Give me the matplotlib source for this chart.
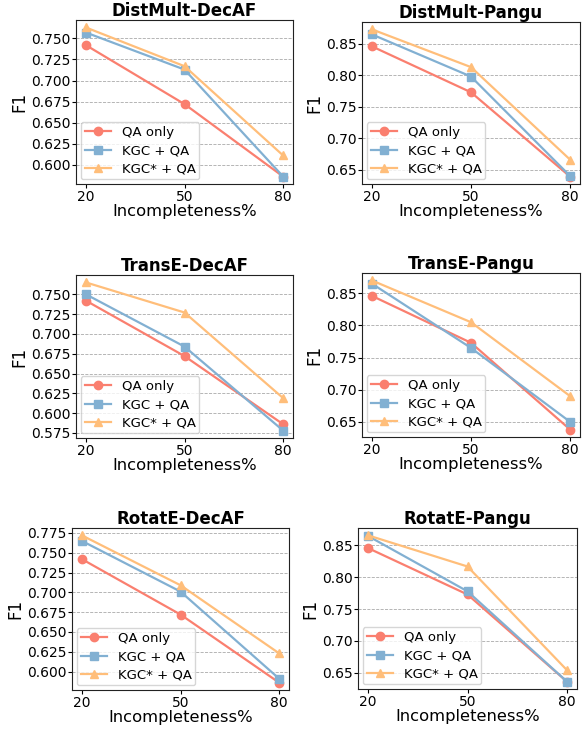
import matplotlib
matplotlib.use("Agg")
import matplotlib.pyplot as plt
from matplotlib.ticker import MultipleLocator, FormatStrFormatter

x_vals = [20, 50, 80]
titles = ["DistMult-DecAF", "DistMult-Pangu", "TransE-DecAF", "TransE-Pangu", "RotatE-DecAF", "RotatE-Pangu"]
series_names = ["QA only", "KGC + QA", "KGC* + QA"]

qa_only = [
    [0.742, 0.672, 0.586],
    [0.846, 0.773, 0.639],
    [0.742, 0.672, 0.586],
    [0.846, 0.773, 0.638],
    [0.742, 0.672, 0.586],
    [0.846, 0.773, 0.636],
]
kgc_qa = [
    [0.757, 0.713, 0.586],
    [0.865, 0.798, 0.640],
    [0.750, 0.684, 0.578],
    [0.865, 0.765, 0.650],
    [0.765, 0.701, 0.591],
    [0.865, 0.778, 0.636],
]
kgcstar_qa = [
    [0.763, 0.717, 0.611],
    [0.873, 0.813, 0.666],
    [0.765, 0.727, 0.619],
    [0.870, 0.805, 0.690],
    [0.772, 0.709, 0.623],
    [0.866, 0.817, 0.654],
]

colors = ["#FA7F6F", "#82B0D2", "#FFBE7A"]
markers = ["o", "s", "^"]

W, H = 585, 729
fig = plt.figure(figsize=(W / 100, H / 100), dpi=100)

# axes boxes in pixels: left, top, right, bottom
boxes = [
    (76, 20, 293, 184),
    (362, 22, 580, 184),
    (76, 275, 293, 438),
    (362, 273, 580, 437),
    (72, 528, 289, 690),
    (358, 528, 577, 689),
]
steps = [0.025, 0.05, 0.025, 0.05, 0.025, 0.05]

for i, (l, t, r, b) in enumerate(boxes):
    ax = fig.add_axes([l / W, 1 - b / H, (r - l) / W, (b - t) / H])
    data = [qa_only[i], kgc_qa[i], kgcstar_qa[i]]
    for d, c, m, name in zip(data, colors, markers, series_names):
        ax.plot(x_vals, d, color=c, marker=m, markersize=6, linewidth=1.6, label=name)
    ax.set_xticks(x_vals)
    ax.yaxis.set_major_locator(MultipleLocator(steps[i]))
    ax.yaxis.set_major_formatter(FormatStrFormatter("%.3f" if steps[i] == 0.025 else "%.2f"))
    ax.grid(axis="y", linestyle="--", color="#aaaaaa", linewidth=0.6)
    ax.set_axisbelow(True)
    ax.tick_params(labelsize=10, length=3, pad=1)
    ax.set_xlabel("Incompleteness%", fontsize=11.8, labelpad=0)
    ax.set_ylabel("F1", fontsize=12, labelpad=2)
    ax.set_title(titles[i], fontsize=12, fontweight="bold", pad=3)
    for s in ax.spines.values():
        s.set_color("#222222")
    ax.legend(loc="lower left", fontsize=9.5, handlelength=2.0, borderpad=0.3,
              borderaxespad=0.35, labelspacing=0.4)

fig.savefig("out.png", dpi=100)
